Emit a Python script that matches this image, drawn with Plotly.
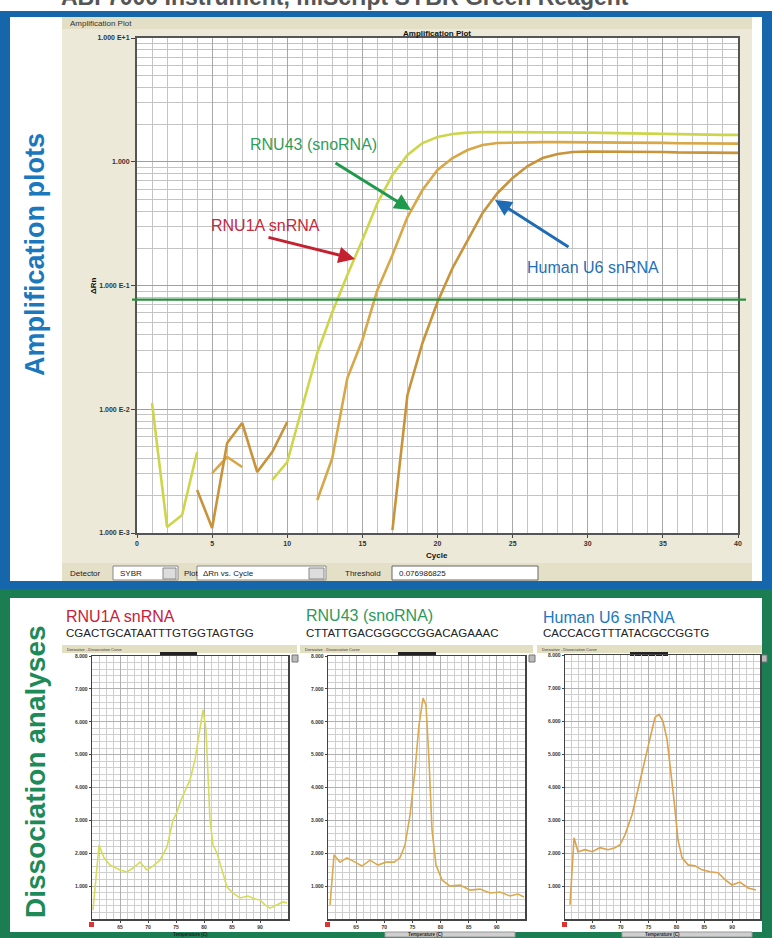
import plotly.graph_objects as go

W, H = 772, 938
def X(px): return px / W
def Y(py): return 1 - py / H

# ---------------- data: amplification plot ----------------
cycles = list(range(1, 41))
rnu1a = [0.01123, 0.001118, 0.001398, 0.004513, None, None, None, None, 0.002681, 0.003748,
         0.01043, 0.02848, 0.06108, 0.1216, 0.2332, 0.4642, 0.7814, 1.134, 1.417, 1.585,
         1.676, 1.72, 1.74, 1.74, 1.74, 1.74, 1.73, 1.73, 1.72, 1.72,
         1.71, 1.70, 1.70, 1.69, 1.68, 1.68, 1.67, 1.66, 1.65, 1.65]
rnu43 = [None, None, None, None, 0.003053, 0.004113, 0.003415, None, None, None,
         None, 0.001848, 0.004037, 0.01789, 0.03628, 0.09197, 0.1764, 0.3577, 0.5911, 0.8577,
         1.072, 1.244, 1.366, 1.417, 1.43, 1.44, 1.44, 1.44, 1.44, 1.43,
         1.43, 1.43, 1.42, 1.42, 1.42, 1.41, 1.41, 1.40, 1.40, 1.40]
u6 = [None, None, None, 0.002226, 0.001098, 0.005337, 0.007743, 0.003111, 0.004513, 0.00789,
      None, None, None, None, None, None, 0.001057, 0.01304, 0.0343, 0.07356,
      0.1385, 0.2332, 0.3854, 0.5594, 0.7391, 0.924, 1.072, 1.155, 1.199, 1.21,
      1.21, 1.21, 1.20, 1.20, 1.20, 1.19, 1.19, 1.19, 1.18, 1.18]
threshold = 0.076986825
amp_xticks = [0, 5, 10, 15, 20, 25, 30, 35, 40]
amp_yticks = [0.001, 0.01, 0.1, 1, 10]
amp_yticklabels = ["1.000 E-3", "1.000 E-2", "1.000 E-1", "1.000", "1.000 E+1"]

# ---------------- data: dissociation curves ----------------
t1 = [60.18, 61.25, 62.14, 63.21, 65.0, 66.25, 67.32, 68.57, 69.82, 70.89, 72.14, 73.39, 74.46,
      75.18, 75.89, 76.61, 77.5, 78.39, 79.11, 79.82, 80.36, 80.71, 81.07, 81.61, 82.32, 83.21,
      84.11, 85.18, 86.43, 87.86, 89.11, 90.0, 90.89, 91.79, 93.04, 94.11, 94.82]
d1 = [0.27, 2.25, 1.86, 1.64, 1.49, 1.43, 1.55, 1.73, 1.49, 1.61, 1.79, 2.19, 3.01,
      3.25, 3.62, 3.92, 4.23, 4.84, 5.60, 6.36, 5.75, 4.23, 3.01, 2.25, 2.01, 1.49,
      0.97, 0.79, 0.64, 0.70, 0.61, 0.58, 0.43, 0.33, 0.43, 0.52, 0.49]
t2 = [60.36, 61.07, 62.13, 63.38, 64.80, 66.04, 67.46, 68.88, 70.30, 71.73, 72.79, 73.68, 74.57,
      75.46, 76.17, 76.88, 77.41, 77.94, 78.48, 79.19, 80.25, 81.68, 83.45, 85.23, 87.01, 88.78,
      90.56, 92.33, 93.75, 94.82]
d2 = [0.43, 1.95, 1.73, 1.86, 1.73, 1.61, 1.79, 1.64, 1.73, 1.73, 1.86, 2.25, 3.16,
      4.53, 5.90, 6.72, 6.51, 4.84, 2.71, 1.64, 1.19, 1.00, 1.03, 0.88, 0.91, 0.79,
      0.82, 0.70, 0.76, 0.67]
t3 = [60.90, 61.62, 62.33, 63.59, 64.85, 66.28, 67.72, 68.97, 69.87, 70.77, 72.03, 73.10, 74.36,
      75.26, 76.15, 76.87, 77.59, 78.31, 78.85, 79.56, 80.28, 81.00, 82.08, 83.33, 84.59, 86.02,
      87.46, 88.72, 89.97, 91.41, 92.85, 94.28]
d3 = [0.43, 2.46, 2.04, 2.10, 2.04, 2.16, 2.10, 2.16, 2.25, 2.55, 3.16, 3.92, 4.84,
      5.51, 6.11, 6.20, 5.99, 5.45, 4.68, 3.62, 2.40, 1.86, 1.64, 1.61, 1.49, 1.43,
      1.40, 1.19, 1.03, 1.12, 0.94, 0.88]

# ---------------- colours ----------------
C_RNU1A = "#cdd64a"
C_RNU43 = "#d8a748"
C_U6 = "#c9933a"
BLUE = "#1666ab"
GREEN = "#1b7d52"
BEIGE = "#ece9d8"

fig = go.Figure()
fig.add_trace(go.Scatter(x=cycles, y=rnu1a, mode="lines", line=dict(color=C_RNU1A, width=2.6),
                         connectgaps=False, showlegend=False, xaxis="x", yaxis="y"))
fig.add_trace(go.Scatter(x=cycles, y=rnu43, mode="lines", line=dict(color=C_RNU43, width=2.6),
                         connectgaps=False, showlegend=False, xaxis="x", yaxis="y"))
fig.add_trace(go.Scatter(x=cycles, y=u6, mode="lines", line=dict(color=C_U6, width=2.6),
                         connectgaps=False, showlegend=False, xaxis="x", yaxis="y"))

fig.add_trace(go.Scatter(x=t1, y=d1, mode="lines", line=dict(color="#d6dc5a", width=1.6),
                         showlegend=False, xaxis="x2", yaxis="y2"))
fig.add_trace(go.Scatter(x=t2, y=d2, mode="lines", line=dict(color="#dba94e", width=1.6),
                         showlegend=False, xaxis="x3", yaxis="y3"))
fig.add_trace(go.Scatter(x=t3, y=d3, mode="lines", line=dict(color="#dca24c", width=1.6),
                         showlegend=False, xaxis="x4", yaxis="y4"))

shapes = []
def rect(x0, y0, x1, y1, fill, line=None, lw=0, layer="below"):
    shapes.append(dict(type="rect", xref="paper", yref="paper",
                       x0=X(x0), x1=X(x1), y0=Y(y1), y1=Y(y0),
                       fillcolor=fill, line=dict(color=line or fill, width=lw), layer=layer))

# frames
rect(0, 11, 772, 589, BLUE)
rect(10, 17, 762, 581, "white")
rect(62, 17, 752, 581, BEIGE)
rect(62, 17, 752, 29, "#e2dfc6")
rect(137, 38, 738, 533, "white")
rect(62, 563, 752, 581, "#e4e0c8")
rect(0, 589, 772, 938, GREEN)
rect(10, 598, 762, 932, "white")

# toolbar boxes
rect(113, 566, 178, 580, "white", "#888", 1)
rect(163, 568, 176, 579, "#ddd", "#888", 1)
rect(197, 566, 326, 580, "white", "#888", 1)
rect(309, 568, 324, 579, "#ddd", "#888", 1)
rect(392, 566, 538, 580, "white", "#666", 1)

# dissociation header bars
for (a, b) in [(62, 297), (300, 533), (537, 762)]:
    rect(a, 645, b, 653, "#e3dfc3")
for (a, b) in [(160, 197), (398, 436), (630, 668)]:
    rect(a, 652, b, 656, "#222")
for a in [292, 529, 761]:
    rect(a, 655, a + 6, 662, "#bbb", "#777", 1)
for a in [89, 325, 562]:
    rect(a, 922, a + 5, 927, "#d33", None, 0)
for a in [325, 562]:
    rect(a + 60, 932, a + 190, 937, "#cfcfcf", "#999", 1)

# threshold line
shapes.append(dict(type="line", xref="paper", yref="y", x0=X(132), x1=X(746),
                   y0=threshold, y1=threshold, line=dict(color="#2a8f3e", width=2.2), layer="above"))

fig.update_layout(shapes=shapes)

ann = []
def text(px, py, s, size, color="#222", xa="left", ya="middle", bold=False, angle=0,
         family="Liberation Sans, Arial, sans-serif"):
    ann.append(dict(x=X(px), y=Y(py), xref="paper", yref="paper", text=s, showarrow=False,
                    xanchor=xa, yanchor=ya, textangle=angle,
                    font=dict(size=size, color=color, family=family,
                              weight="bold" if bold else "normal")))

def arrow(hx, hy, tx, ty, color):
    ann.append(dict(x=X(hx), y=Y(hy), xref="paper", yref="paper", ax=tx - hx, ay=ty - hy,
                    text="", showarrow=True, arrowhead=2, arrowsize=1.1, arrowwidth=3,
                    arrowcolor=color))

text(345, -3, "ABI 7000 Instrument, miScript SYBR Green Reagent", 23, "#555", xa="center",
     bold=True)
text(68, 23, "Amplification Plot", 8, "#333")
text(437, 33, "Amplification Plot", 8, "#111", xa="center", bold=True)
text(437, 555, "Cycle", 8, "#111", xa="center", bold=True)
text(93, 286, "ΔRn", 8, "#111", xa="center", bold=True, angle=-90)
text(68, 573, "Detector", 8, "#222")
text(118, 573, "SYBR", 8, "#222")
text(182, 573, "Plot", 8, "#222")
text(201, 573, "ΔRn vs. Cycle", 8, "#222")
text(343, 573, "Threshold", 8, "#222")
text(397, 573, "0.076986825", 8, "#222")

text(35, 255, "Amplification plots", 27, "#1b78bd", xa="center", bold=True, angle=-90)
text(35, 772, "Dissociation analyses", 28, "#1d8a58", xa="center", bold=True, angle=-90)

text(313, 145, "RNU43 (snoRNA)", 16, "#2f9e5c", xa="center")
arrow(411, 210, 334, 162, "#1f9a4c")
text(265, 225, "RNU1A snRNA", 16, "#c42a40", xa="center")
arrow(355, 259, 267, 237, "#c42030")
text(593, 267, "Human U6 snRNA", 16, "#1f70b8", xa="center")
arrow(495, 200, 570, 248, "#1f6cb5")

text(64, 616, "RNU1A snRNA", 16, "#c8213a")
text(64, 633, "CGACTGCATAATTTGTGGTAGTGG", 11.5, "#222")
text(304, 615, "RNU43 (snoRNA)", 16, "#2c9a5c")
text(304, 633, "CTTATTGACGGGCCGGACAGAAAC", 11.5, "#222")
text(541, 617, "Human U6 snRNA", 16, "#2078c0")
text(541, 633, "CACCACGTTTATACGCCGGTG", 11.5, "#222")
for (a, b) in [(62, 297), (300, 533), (537, 762)]:
    text(a + 3, 649, "Derivative - Dissociation Curve", 4, "#333")
for c in [190, 426, 662]:
    text(c, 934.5, "Temperature (C)", 4.5, "#222", xa="center", bold=True)

fig.update_layout(annotations=ann)

tickfont = dict(size=7, color="#333", family="Liberation Sans, Arial", weight="bold")
fig.update_layout(
    width=W, height=H, margin=dict(l=0, r=0, t=0, b=0),
    paper_bgcolor="white", plot_bgcolor="rgba(0,0,0,0)", showlegend=False,
    xaxis=dict(domain=[X(137), X(738)], range=[0, 40], anchor="y", tickmode="array",
               tickvals=amp_xticks, ticks="outside", ticklen=3, tickcolor="#444", tickfont=tickfont,
               showgrid=True, gridcolor="#a8a8a8", gridwidth=1,
               minor=dict(dtick=1, tick0=0, showgrid=True, gridcolor="#c4c4c4", gridwidth=1),
               showline=True, linecolor="#555", linewidth=2, mirror=True, zeroline=False,
               automargin=False, fixedrange=True),
    yaxis=dict(domain=[Y(533), Y(38)], type="log", range=[-3, 1], anchor="x", tickmode="array",
               tickvals=amp_yticks, ticktext=amp_yticklabels, ticks="outside", ticklen=4,
               tickcolor="#444", tickfont=tickfont,
               showgrid=True, gridcolor="#a0a0a0", gridwidth=1,
               minor=dict(dtick="D1", showgrid=True, gridcolor="#c4c4c4", gridwidth=1),
               showline=True, linecolor="#555", linewidth=2, mirror=True, zeroline=False,
               automargin=False, fixedrange=True),
)

small = dict(size=5, color="#333", family="Liberation Sans, Arial", weight="bold")
panels = [("x2", "y2", 92, 288, 656, 919), ("x3", "y3", 328, 525, 656, 919),
          ("x4", "y4", 565, 760, 655, 919)]
for xa, ya, x0, x1, y0, y1 in panels:
    xk = "xaxis" + xa[1:]
    yk = "yaxis" + ya[1:]
    fig.update_layout(**{
        xk: dict(domain=[X(x0), X(x1)], range=[60, 95], anchor=ya, tickmode="array",
                 tickvals=[65, 70, 75, 80, 85, 90], ticks="outside", ticklen=2, tickfont=small,
                 showgrid=True, gridcolor="#b0b0b0", gridwidth=1,
                 minor=dict(dtick=1.25, tick0=60, showgrid=True, gridcolor="#cfcfcf", gridwidth=1),
                 showline=True, linecolor="#444", linewidth=1.5, mirror=True, zeroline=False,
                 automargin=False, fixedrange=True),
        yk: dict(domain=[Y(y1), Y(y0)], range=[0, 8], anchor=xa, tickmode="array",
                 tickvals=[1, 2, 3, 4, 5, 6, 7, 8], tickformat=".3f", ticks="outside", ticklen=2,
                 tickfont=small, showgrid=True, gridcolor="#b0b0b0", gridwidth=1,
                 minor=dict(dtick=0.2, tick0=0, showgrid=True, gridcolor="#cfcfcf", gridwidth=1),
                 showline=True, linecolor="#444", linewidth=1.5, mirror=True, zeroline=False,
                 automargin=False, fixedrange=True),
    })

fig.write_html("out.html", config={"displayModeBar": False, "staticPlot": True},
               post_script="document.body.style.margin='0px';"
                           "document.body.style.overflow='hidden';")
